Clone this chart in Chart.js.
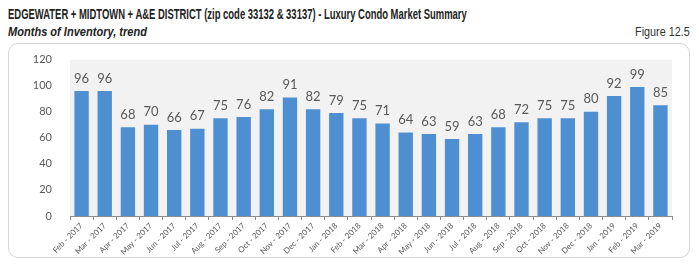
<!DOCTYPE html>
<html><head><meta charset="utf-8">
<script src="https://cdn.jsdelivr.net/npm/chart.js@4"></script>
<style>
html,body{margin:0;padding:0;background:#fff;width:699px;height:275px;overflow:hidden;}
#t1{position:absolute;left:8px;top:6px;font-family:"Liberation Sans",Arial,sans-serif;font-weight:bold;font-size:14px;color:#222;white-space:nowrap;transform:scaleX(0.675);transform-origin:0 0;}
#t2{position:absolute;left:8px;top:24px;font-family:"Liberation Sans",Arial,sans-serif;font-weight:bold;font-style:italic;font-size:13px;color:#222;white-space:nowrap;transform:scaleX(0.85);transform-origin:0 0;}
#fig{position:absolute;right:9px;top:25px;font-family:"Liberation Sans",Arial,sans-serif;font-size:12px;color:#333;white-space:nowrap;transform:scaleX(0.9);transform-origin:100% 0;}
#box{position:absolute;left:8px;top:43px;width:680px;height:213px;border:1px solid #d6d6d6;border-radius:10px;}
#wrap{position:absolute;left:8px;top:43px;width:682px;height:215px;}
</style></head><body>
<div id="t1">EDGEWATER + MIDTOWN + A&amp;E DISTRICT (zip code 33132 &amp; 33137) - Luxury Condo Market Summary</div>
<div id="t2">Months of Inventory, trend</div>
<div id="fig">Figure 12.5</div>
<div id="box"></div>
<div id="wrap"><canvas id="c" width="682" height="215"></canvas></div>
<script>
const categories = ["Feb - 2017","Mar - 2017","Apr - 2017","May - 2017","Jun - 2017","Jul - 2017","Aug - 2017","Sep - 2017","Oct - 2017","Nov - 2017","Dec - 2017","Jan - 2018","Feb - 2018","Mar - 2018","Apr - 2018","May - 2018","Jun - 2018","Jul - 2018","Aug - 2018","Sep - 2018","Oct - 2018","Nov - 2018","Dec - 2018","Jan - 2019","Feb - 2019","Mar - 2019"];
const monthsOfInventory = [96,96,68,70,66,67,75,76,82,91,82,79,75,71,64,63,59,63,68,72,75,75,80,92,99,85];
const yTicks = [0,20,40,60,80,100,120];

const bgPlugin = {
  id:'bg',
  beforeDraw(chart){
    const {ctx, chartArea:a} = chart;
    ctx.save(); ctx.fillStyle='#f2f2f2';
    ctx.fillRect(a.left, a.top, a.right-a.left, a.bottom-a.top);
    ctx.restore();
  }
};
const labelPlugin = {
  id:'vals',
  afterDatasetsDraw(chart){
    const {ctx} = chart;
    const meta = chart.getDatasetMeta(0);
    ctx.save();
    ctx.font = '13px Lato, "Open Sans", sans-serif';
    ctx.fillStyle = '#595959';
    ctx.textAlign = 'center'; ctx.textBaseline = 'bottom';
    meta.data.forEach((bar,i)=>{
      ctx.fillText(String(chart.data.datasets[0].data[i]), bar.x, bar.y - 6);
    });
    ctx.restore();
  }
};
new Chart(document.getElementById('c'), {
  type:'bar',
  data:{labels:categories, datasets:[{data:monthsOfInventory, backgroundColor:'#4d8fd1', categoryPercentage:0.62, barPercentage:1}]},
  options:{
    responsive:false, animation:false,
    layout:{padding:{top:13,right:18,left:0,bottom:0}},
    plugins:{legend:{display:false}, tooltip:{enabled:false}},
    scales:{
      x:{
        offset:true,
        grid:{display:true, offset:true, drawOnChartArea:false, drawTicks:true, tickLength:4, color:'#8c8c8c'},
        border:{display:true, color:'#8c8c8c'},
        ticks:{minRotation:45, maxRotation:45, autoSkip:false, padding:1, color:'#595959', font:{family:'Lato, "Open Sans", sans-serif', size:8}},
        afterFit(s){ s.height = 42; }
      },
      y:{
        min:0, max:120,
        afterBuildTicks(s){ s.ticks = yTicks.map(v=>({value:v})); },
        grid:{display:false},
        border:{display:false},
        ticks:{padding:10, color:'#595959', font:{family:'Lato, "Open Sans", sans-serif', size:11}},
        afterFit(s){ s.width = 62; }
      }
    }
  },
  plugins:[bgPlugin, labelPlugin]
});
</script>
</body></html>
